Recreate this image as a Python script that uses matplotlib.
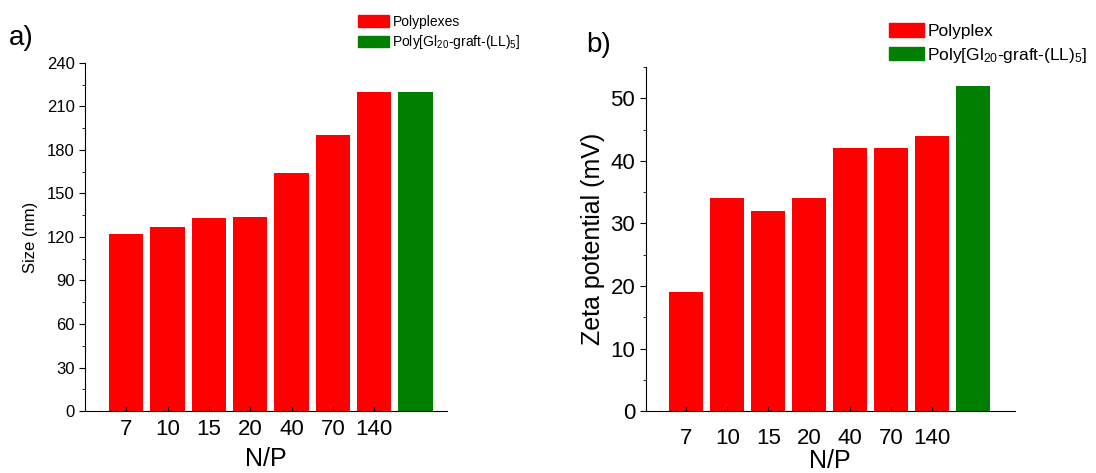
import numpy as np
import matplotlib.pyplot as plt
from matplotlib.patches import Patch
from matplotlib.ticker import MultipleLocator

plt.rcParams['font.family'] = ['Liberation Sans', 'DejaVu Sans']
plt.rcParams['mathtext.fontset'] = 'custom'
plt.rcParams['mathtext.rm'] = 'Liberation Sans'
plt.rcParams['mathtext.it'] = 'Liberation Sans'

# data
np_labels = ['7', '10', '15', '20', '40', '70', '140']
size_polyplex = [122, 127, 133, 134, 164, 190, 220]
size_polymer = 220
zeta_polyplex = [19, 34, 32, 34, 42, 42, 44]
zeta_polymer = 52

polymer_name = r'Poly[Gl$_{20}$-graft-(LL)$_5$]'
red = '#ff0000'
green = '#008000'

fig = plt.figure(figsize=(10.96, 4.73), dpi=100)
ax1 = fig.add_axes([0.0776, 0.131, 0.3304, 0.736])
ax2 = fig.add_axes([0.589, 0.131, 0.337, 0.727])

x = np.arange(1, len(np_labels) + 1)
x_poly = len(np_labels) + 1

# a) size
ax1.bar(x, size_polyplex, width=0.83, color=red)
ax1.bar(x_poly, size_polymer, width=0.83, color=green)
ax1.set_xlim(0, 8.77)
ax1.set_ylim(0, 240)
ax1.yaxis.set_major_locator(MultipleLocator(30))
ax1.yaxis.set_minor_locator(MultipleLocator(15))
ax1.set_xticks(x)
ax1.set_xticklabels(np_labels, fontsize=16)
ax1.tick_params(axis='y', labelsize=12, length=4)
ax1.tick_params(axis='y', which='minor', length=2)
ax1.tick_params(axis='x', length=3, direction='in', pad=6)
ax1.set_ylabel('Size (nm)', fontsize=12, labelpad=6)
ax1.set_xlabel('N/P', fontsize=18, labelpad=5)

# b) zeta potential
ax2.bar(x, zeta_polyplex, width=0.83, color=red)
ax2.bar(x_poly, zeta_polymer, width=0.83, color=green)
ax2.set_xlim(0, 9.02)
ax2.set_ylim(0, 55)
ax2.yaxis.set_major_locator(MultipleLocator(10))
ax2.yaxis.set_minor_locator(MultipleLocator(5))
ax2.set_xticks(x)
ax2.set_xticklabels(np_labels, fontsize=16)
ax2.tick_params(axis='y', labelsize=16, length=4)
ax2.tick_params(axis='y', which='minor', length=2)
ax2.tick_params(axis='x', length=3, direction='in', pad=12)
ax2.set_ylabel('Zeta potential (mV)', fontsize=18, labelpad=4)
ax2.set_xlabel('N/P', fontsize=18, labelpad=0)

for ax in (ax1, ax2):
    ax.spines['top'].set_visible(False)
    ax.spines['right'].set_visible(False)

fig.legend(handles=[Patch(color=red, label='Polyplexes'),
                    Patch(color=green, label=polymer_name)],
           loc='upper left', bbox_to_anchor=(0.322, 0.98), frameon=False,
           fontsize=10, handlelength=2.2, handleheight=0.9,
           handletextpad=0.25, labelspacing=0.3, borderaxespad=0)
fig.legend(handles=[Patch(color=red, label='Polyplex'),
                    Patch(color=green, label=polymer_name)],
           loc='upper left', bbox_to_anchor=(0.805, 0.965), frameon=False,
           fontsize=12.5, handlelength=2.0, handleheight=0.85,
           handletextpad=0.2, labelspacing=0.35, borderaxespad=0)

fig.text(0.008, 0.905, 'a)', fontsize=20)
fig.text(0.535, 0.89, 'b)', fontsize=20)

plt.savefig('out.png')
